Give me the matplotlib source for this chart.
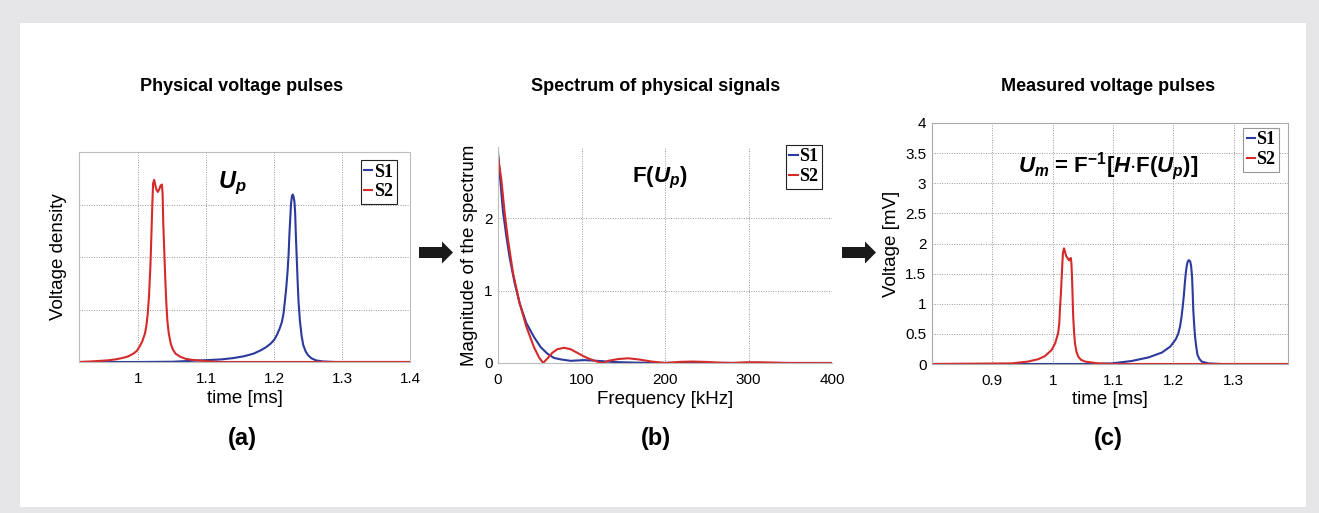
import matplotlib
matplotlib.use("Agg")
import matplotlib.pyplot as plt
from matplotlib.patches import Rectangle, Polygon

plt.rcParams['font.family'] = ['Liberation Sans', 'DejaVu Sans']
plt.rcParams['mathtext.fontset'] = 'custom'
plt.rcParams['mathtext.rm'] = 'Liberation Sans:bold'
plt.rcParams['mathtext.it'] = 'Liberation Sans:bold:italic'
plt.rcParams['mathtext.bf'] = 'Liberation Sans:bold'

W, H = 1319, 513
BLUE = '#2b3a9c'
RED = '#d42a2a'

# (a) physical voltage pulses (arbitrary density units)
t_a_s1 = [0.913, 1.00, 1.05, 1.075, 1.10, 1.123, 1.140, 1.156, 1.170, 1.180, 1.188, 1.195, 1.200,
          1.204, 1.208, 1.2115, 1.214, 1.216, 1.218, 1.220, 1.2215, 1.2226, 1.224, 1.225, 1.2262,
          1.2274, 1.2287, 1.230, 1.231, 1.232, 1.2333, 1.2346, 1.236, 1.238, 1.2405, 1.243, 1.2465,
          1.250, 1.255, 1.262, 1.272, 1.29, 1.40]
v_a_s1 = [0.0, 0.0, 0.005, 0.02, 0.035, 0.05, 0.075, 0.11, 0.16, 0.22, 0.28, 0.35, 0.42,
          0.51, 0.63, 0.76, 0.93, 1.17, 1.42, 1.75, 2.08, 2.44, 2.78, 3.02, 3.15,
          3.19, 3.15, 3.05, 2.85, 2.44, 2.0, 1.56, 1.15, 0.79, 0.5, 0.32, 0.2,
          0.13, 0.07, 0.03, 0.01, 0.0, 0.0]
t_a_s2 = [0.913, 0.93, 0.954, 0.967, 0.978, 0.986, 0.993, 0.998, 1.002, 1.006, 1.010, 1.012, 1.014,
          1.016, 1.018, 1.019, 1.020, 1.021, 1.022, 1.0236, 1.025, 1.027, 1.029, 1.031, 1.033,
          1.035, 1.036, 1.037, 1.0385, 1.040, 1.0415, 1.043, 1.045, 1.048, 1.051, 1.055, 1.062,
          1.070, 1.080, 1.089, 1.10, 1.12, 1.40]
v_a_s2 = [0.0, 0.01, 0.03, 0.05, 0.08, 0.11, 0.16, 0.21, 0.29, 0.39, 0.54, 0.68, 0.9,
          1.25, 1.81, 2.2, 2.63, 3.05, 3.40, 3.47, 3.38, 3.28, 3.24, 3.29, 3.36,
          3.38, 3.2, 2.63, 2.1, 1.56, 1.12, 0.79, 0.55, 0.35, 0.24, 0.16, 0.1,
          0.06, 0.04, 0.03, 0.015, 0.0, 0.0]

# (b) spectrum magnitude
f_s1 = [0, 2, 4, 6, 10, 14, 20, 26, 34, 43, 51, 59, 67, 75, 87, 103, 119, 136, 164, 200, 300, 400]
m_s1 = [2.92, 2.62, 2.35, 2.09, 1.75, 1.45, 1.10, 0.82, 0.55, 0.36, 0.22, 0.13, 0.07, 0.05, 0.03,
        0.04, 0.03, 0.015, 0.005, 0.002, 0.001, 0.0]
f_s2 = [0, 4, 8, 12, 18, 26, 34, 43, 49, 54, 59, 65, 71, 79, 87, 95, 103, 111, 121, 126, 132, 144,
        156, 168, 184, 200, 217, 233, 249, 265, 281, 298, 314, 330, 346, 400]
m_s2 = [2.85, 2.53, 2.07, 1.70, 1.24, 0.82, 0.50, 0.22, 0.08, 0.0, 0.06, 0.14, 0.19, 0.21, 0.19,
        0.14, 0.09, 0.05, 0.01, 0.0, 0.03, 0.055, 0.065, 0.05, 0.02, 0.0, 0.015, 0.02, 0.015,
        0.005, 0.0, 0.01, 0.01, 0.005, 0.0, 0.0]

# (c) measured voltage pulses [mV]
t_c_s1 = [0.80, 1.059, 1.098, 1.131, 1.159, 1.181, 1.195, 1.204, 1.208, 1.211, 1.2135, 1.2155,
          1.2175, 1.219, 1.2205, 1.222, 1.2235, 1.225, 1.2265, 1.228, 1.2295, 1.231, 1.232, 1.233,
          1.2345, 1.236, 1.238, 1.240, 1.2435, 1.247, 1.258, 1.28, 1.39]
v_c_s1 = [0.0, 0.0, 0.01, 0.05, 0.11, 0.19, 0.29, 0.41, 0.5, 0.62, 0.78, 0.95,
          1.15, 1.34, 1.5, 1.62, 1.69, 1.72, 1.72, 1.70, 1.62, 1.45, 1.2, 0.9,
          0.65, 0.45, 0.28, 0.15, 0.08, 0.04, 0.01, 0.0, 0.0]
t_c_s2 = [0.80, 0.9315, 0.959, 0.976, 0.987, 0.998, 1.004, 1.009, 1.011, 1.012, 1.0135, 1.015,
          1.016, 1.017, 1.0187, 1.020, 1.021, 1.0225, 1.0245, 1.027, 1.029, 1.030, 1.031, 1.032,
          1.033, 1.034, 1.0355, 1.037, 1.0395, 1.0425, 1.047, 1.0536, 1.0757, 1.10, 1.39]
v_c_s2 = [0.0, 0.01, 0.04, 0.08, 0.13, 0.23, 0.34, 0.51, 0.68, 0.9, 1.15, 1.45,
          1.66, 1.84, 1.92, 1.88, 1.84, 1.79, 1.76, 1.72, 1.75, 1.76, 1.68, 1.45,
          1.12, 0.79, 0.52, 0.34, 0.2, 0.12, 0.07, 0.04, 0.01, 0.0, 0.0]

titles = ['Physical voltage pulses', 'Spectrum of physical signals', 'Measured voltage pulses']
panel_tags = ['(a)', '(b)', '(c)']

fig = plt.figure(figsize=(W / 100, H / 100), dpi=100, facecolor='#e6e6e8')
fig.patches.append(Rectangle((20 / W, 1 - 507 / H), (1306 - 20) / W, (507 - 23) / H,
                             transform=fig.transFigure, facecolor='white', edgecolor='none', zorder=-10))


def add_axes(left, top, right, bottom):
    return fig.add_axes([left / W, 1 - bottom / H, (right - left) / W, (bottom - top) / H])


def style(ax, spine_color='#bdbdbd'):
    ax.grid(True, linestyle=(0, (1, 1.5)), color='#9a9a9a', linewidth=0.7)
    for s in ax.spines.values():
        s.set_color(spine_color)
        s.set_linewidth(0.8)
    ax.tick_params(length=0, labelsize=11)
    ax.tick_params(axis='x', pad=7)
    ax.tick_params(axis='y', pad=4)
    ax.set_axisbelow(True)


def legend(ax, anchor, edge):
    leg = ax.legend(loc='upper right', bbox_to_anchor=anchor, handlelength=0.45, handletextpad=0.1,
                    borderpad=0.2, labelspacing=0.15, fancybox=False, framealpha=1, borderaxespad=0,
                    prop={'family': 'Liberation Serif', 'weight': 'bold', 'size': 13})
    leg.get_frame().set_edgecolor(edge)
    leg.get_frame().set_linewidth(0.8)


# (a)
ax1 = add_axes(79, 152, 410, 362)
ax1.plot(t_a_s1, v_a_s1, color=BLUE, lw=1.5, label='S1')
ax1.plot(t_a_s2, v_a_s2, color=RED, lw=1.5, label='S2')
ax1.set_xlim(0.913, 1.4)
ax1.set_ylim(0, 4)
ax1.set_xticks([1, 1.1, 1.2, 1.3, 1.4], ['1', '1.1', '1.2', '1.3', '1.4'])
ax1.set_yticks([0, 1, 2, 3, 4], [''] * 5)
style(ax1)
ax1.set_xlabel('time [ms]', fontsize=13.5)
ax1.set_ylabel('Voltage density', fontsize=13.5)
ax1.xaxis.set_label_coords(0.5, -0.135)
ax1.yaxis.set_label_coords(-0.036, 0.5)
ax1.text(0.42, 0.829, r'$U_p$', transform=ax1.transAxes, fontsize=17, ha='left', va='baseline')
legend(ax1, (0.96, 0.962), '#222222')

# (b)
ax2 = add_axes(498, 147, 832, 363)
ax2.plot(f_s1, m_s1, color=BLUE, lw=1.5, label='S1')
ax2.plot(f_s2, m_s2, color=RED, lw=1.5, label='S2')
ax2.set_xlim(0, 400)
ax2.set_ylim(0, 2.98)
ax2.set_xticks([0, 100, 200, 300, 400])
ax2.set_yticks([0, 1, 2])
style(ax2)
ax2.spines['top'].set_visible(False)
ax2.spines['right'].set_visible(False)
ax2.set_xlabel('Frequency [kHz]', fontsize=13.5)
ax2.set_ylabel('Magnitude of the spectrum', fontsize=13.5)
ax2.xaxis.set_label_coords(0.5, -0.13)
ax2.yaxis.set_label_coords(-0.06, 0.5)
ax2.text(0.401, 0.838, r'F($U_p$)', transform=ax2.transAxes, fontsize=16, fontweight='bold',
         ha='left', va='baseline')
legend(ax2, (0.97, 1.01), '#222222')

# (c)
ax3 = add_axes(932, 123, 1288, 364)
ax3.plot(t_c_s1, v_c_s1, color=BLUE, lw=1.5, label='S1')
ax3.plot(t_c_s2, v_c_s2, color=RED, lw=1.5, label='S2')
ax3.set_xlim(0.80, 1.39)
ax3.set_ylim(0, 4)
ax3.set_xticks([0.9, 1, 1.1, 1.2, 1.3], ['0.9', '1', '1.1', '1.2', '1.3'])
ax3.set_yticks([0, 0.5, 1, 1.5, 2, 2.5, 3, 3.5, 4], ['0', '0.5', '1', '1.5', '2', '2.5', '3', '3.5', '4'])
style(ax3, '#aaaaaa')
ax3.set_xlabel('time [ms]', fontsize=13.5)
ax3.set_ylabel('Voltage [mV]', fontsize=13.5)
ax3.xaxis.set_label_coords(0.5, -0.112)
ax3.yaxis.set_label_coords(-0.09, 0.5)
ax3.text(0.2416, 0.797, r'$U_m$ = F$^{-1}$[$H$$\cdot$F($U_p$)]', transform=ax3.transAxes, fontsize=16,
         fontweight='bold', ha='left', va='baseline')
legend(ax3, (0.975, 0.98), '#999999')

# titles and tags
for x, title, tag in zip([242, 656, 1108], titles, panel_tags):
    fig.text(x / W, 1 - 87 / H, title, ha='center', va='center', fontsize=13, fontweight='bold')
    fig.text(x / W, 1 - 439 / H, tag, ha='center', va='center', fontsize=17, fontweight='bold')


def block_arrow(x0, x1, yc):
    pts = [(x0, yc - 5.5), (x1 - 11, yc - 5.5), (x1 - 11, yc - 11), (x1, yc),
           (x1 - 11, yc + 11), (x1 - 11, yc + 5.5), (x0, yc + 5.5)]
    fig.patches.append(Polygon([(px / W, 1 - py / H) for px, py in pts], closed=True,
                               transform=fig.transFigure, facecolor='#1a1a1a', edgecolor='none'))


block_arrow(419, 453, 252.5)
block_arrow(842, 876, 252.5)

fig.savefig('out.png', dpi=100, facecolor=fig.get_facecolor())
